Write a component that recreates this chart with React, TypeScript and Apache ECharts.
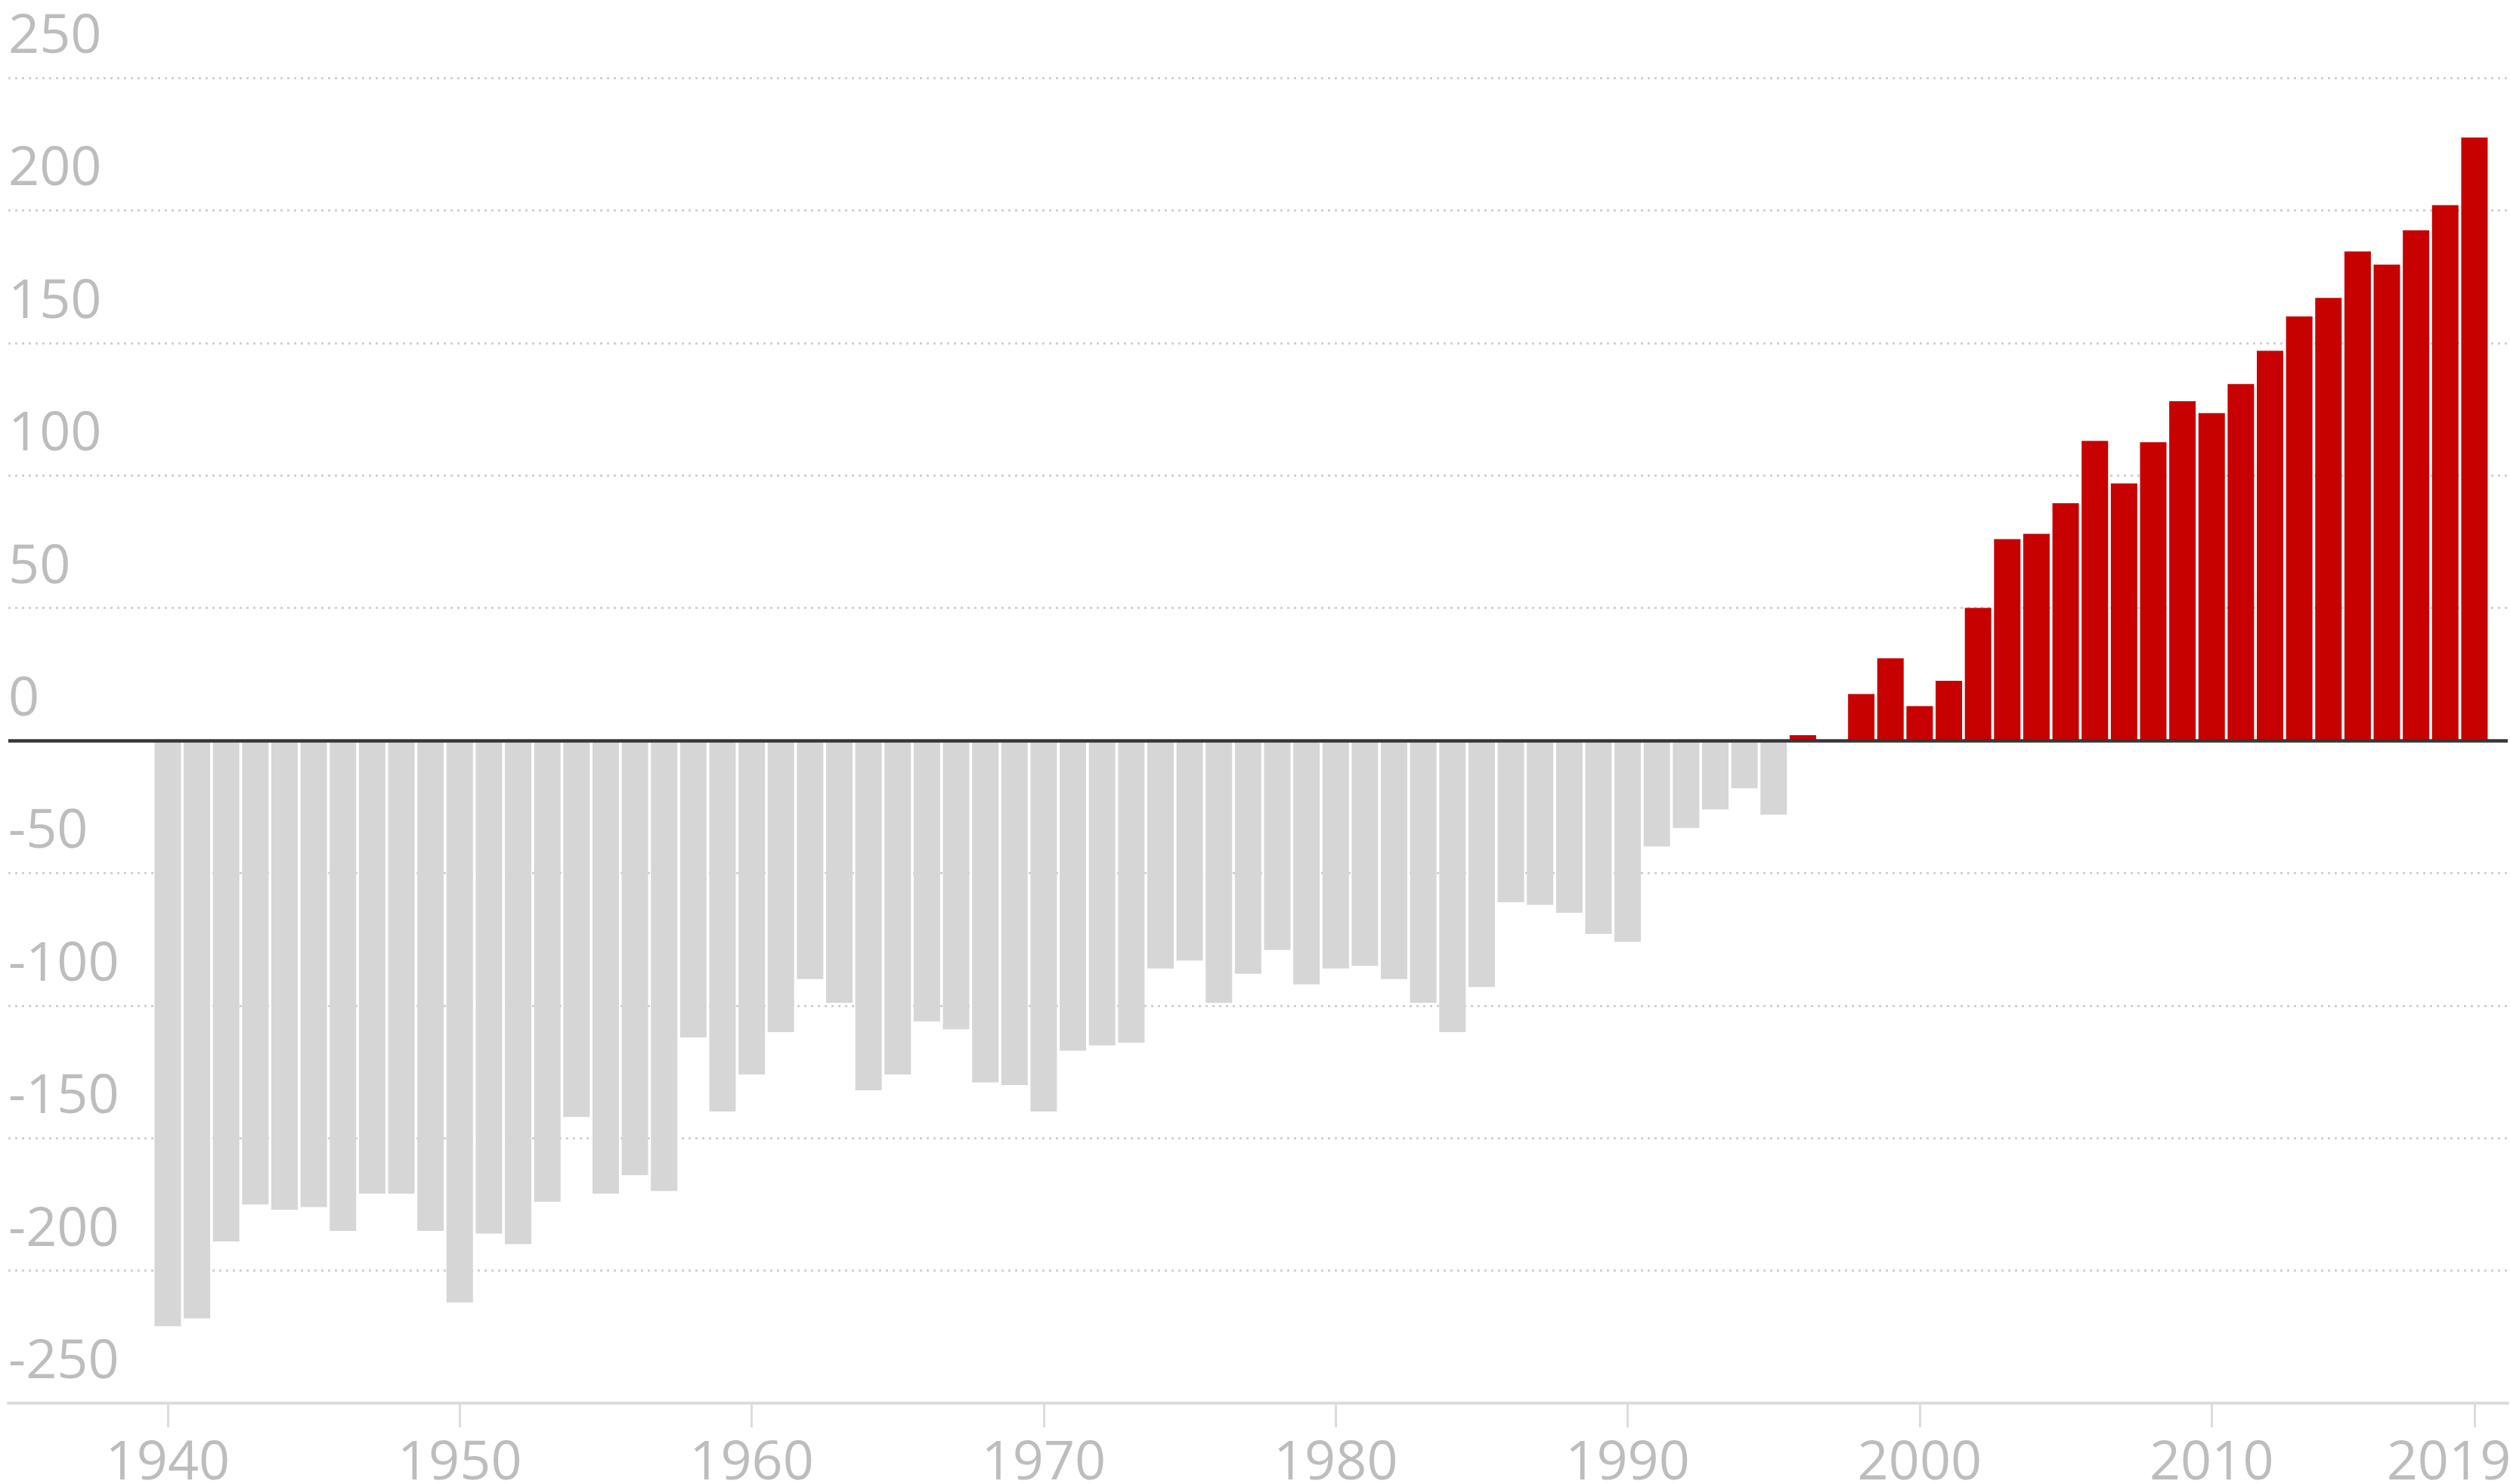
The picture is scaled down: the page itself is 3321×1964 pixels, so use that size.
import React, { useEffect, useRef } from "react";
import * as echarts from "echarts";

const years = [
  1940, 1941, 1942, 1943, 1944, 1945, 1946, 1947, 1948, 1949,
  1950, 1951, 1952, 1953, 1954, 1955, 1956, 1957, 1958, 1959,
  1960, 1961, 1962, 1963, 1964, 1965, 1966, 1967, 1968, 1969,
  1970, 1971, 1972, 1973, 1974, 1975, 1976, 1977, 1978, 1979,
  1980, 1981, 1982, 1983, 1984, 1985, 1986, 1987, 1988, 1989,
  1990, 1991, 1992, 1993, 1994, 1995, 1996, 1997, 1998, 1999,
  2000, 2001, 2002, 2003, 2004, 2005, 2006, 2007, 2008, 2009,
  2010, 2011, 2012, 2013, 2014, 2015, 2016, 2017, 2018, 2019,
];

const values = [
  -221, -218, -189, -175, -177, -176, -185, -171, -171, -185,
  -212, -186, -190, -174, -142, -171, -164, -170, -112, -140,
  -126, -110, -90, -99, -132, -126, -106, -109, -129, -130,
  -140, -117, -115, -114, -86, -83, -99, -88, -79, -92,
  -86, -85, -90, -99, -110, -93, -61, -62, -65, -73,
  -76, -40, -33, -26, -18, -28, 2, 0, 17.5, 31,
  13, 22.5, 50, 76, 78, 89.5, 113, 97, 112.5, 128,
  123.5, 134.5, 147, 160, 167, 184.5, 179.5, 192.5, 202, 227.5,
];

const xTickYears = [1940, 1950, 1960, 1970, 1980, 1990, 2000, 2010, 2019];
const yMin = -250;
const yMax = 250;
const yStep = 50;

const RED = "#c70000";
const GREY = "#d6d6d6";
const LABEL = "#bdbdbd";
const FONT = "'Open Sans', 'Noto Sans', sans-serif";

export default function App() {
  const ref = useRef<HTMLDivElement>(null);

  useEffect(() => {
    if (!ref.current) return;
    const chart = echarts.init(ref.current, null, { renderer: "svg" });
    const data = years.map((y, i) => ({
      value: [y, values[i]],
      itemStyle: { color: values[i] >= 0 ? RED : GREY },
    }));
    chart.setOption({
      animation: false,
      backgroundColor: "#ffffff",
      grid: {
        left: 11,
        right: 3,
        top: 103,
        bottom: 107,
        containLabel: false,
        outerBoundsMode: "none",
      },
      xAxis: {
        type: "value",
        min: 1934.54,
        max: 2020.14,
        splitLine: { show: false },
        axisLine: { show: true, onZero: false, lineStyle: { color: "#dcdcdc", width: 4 } },
        axisTick: {
          show: true,
          customValues: xTickYears,
          length: 32,
          lineStyle: { color: "#dcdcdc", width: 3 },
        },
        axisLabel: {
          customValues: xTickYears,
          margin: 43,
          color: LABEL,
          fontFamily: FONT,
          fontSize: 72,
          lineHeight: 60,
          formatter: (v: number) => (v === 2019 ? "{last|2019}" : String(v)),
          rich: {
            last: {
              color: LABEL,
              fontFamily: FONT,
              fontSize: 72,
              lineHeight: 60,
              padding: [0, 68, 0, 0],
            },
          },
        },
      },
      yAxis: {
        type: "value",
        min: yMin,
        max: yMax,
        interval: yStep,
        axisLine: { show: false },
        axisTick: { show: false },
        splitLine: {
          show: true,
          lineStyle: { color: "#d2d2d2", width: 3, type: [3, 6] },
        },
        axisLabel: {
          inside: true,
          margin: 0,
          align: "left",
          verticalAlign: "bottom",
          lineHeight: 56,
          padding: [0, 0, 33, 0],
          color: LABEL,
          fontFamily: FONT,
          fontSize: 72,
        },
      },
      series: [
        {
          type: "bar",
          data,
          barWidth: 35,
          markLine: {
            silent: true,
            symbol: ["none", "none"],
            label: { show: false },
            lineStyle: { color: "#363636", width: 4.5, type: "solid" },
            data: [{ yAxis: 0 }],
          },
        },
      ],
    });
    return () => chart.dispose();
  }, []);

  return (
    <div
      ref={ref}
      style={{ position: "absolute", left: 0, top: 0, width: 3321, height: 1964, background: "#fff" }}
    />
  );
}
